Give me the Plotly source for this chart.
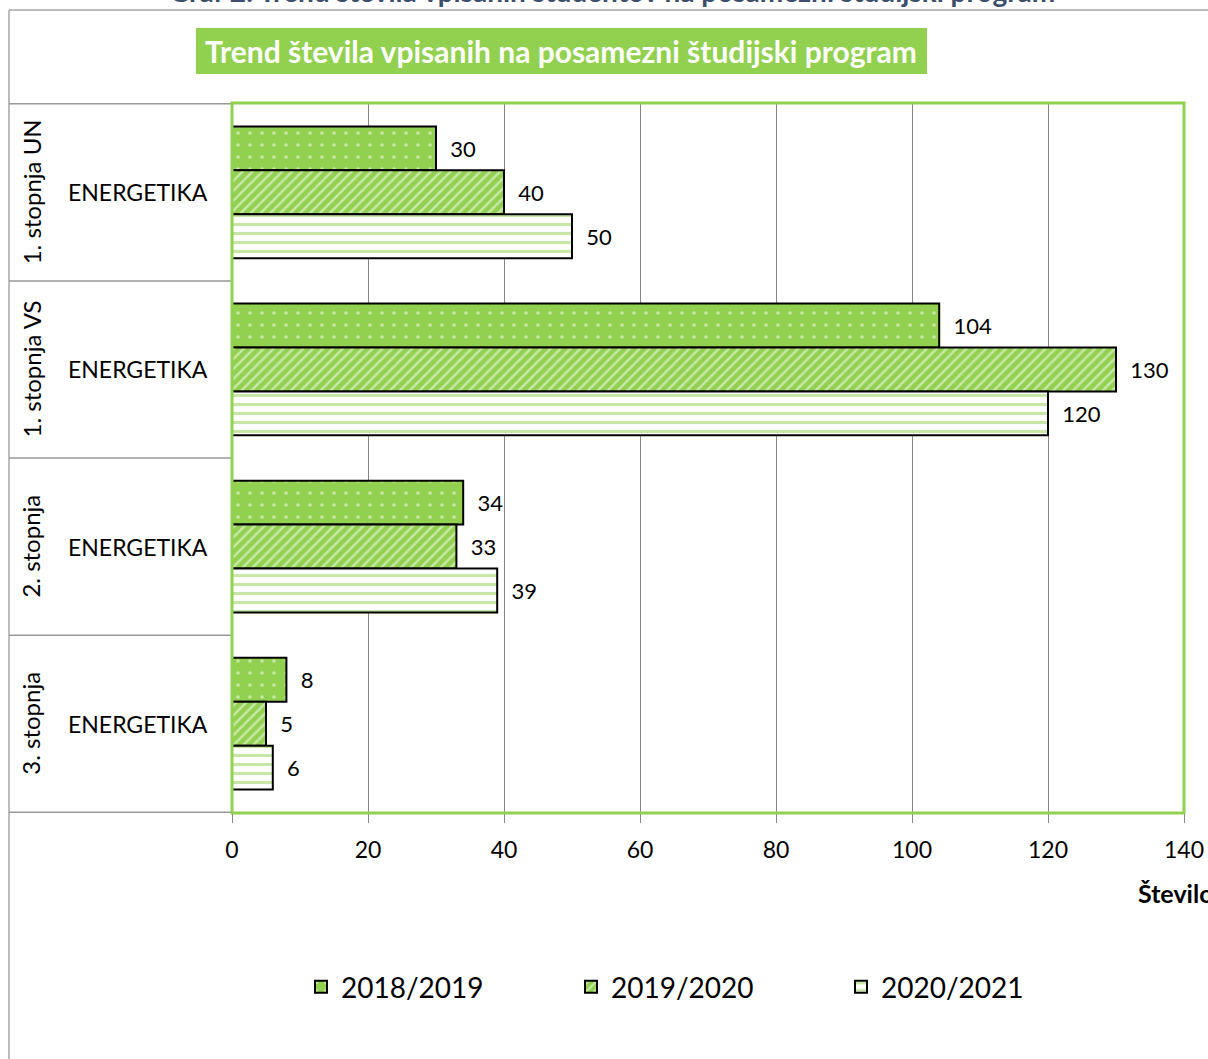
import plotly.graph_objects as go

# data
groups = ["1. stopnja UN", "1. stopnja VS", "2. stopnja", "3. stopnja"]
program = "ENERGETIKA"
years = ["2018/2019", "2019/2020", "2020/2021"]
v_2018 = [30, 104, 34, 8]
v_2019 = [40, 130, 33, 5]
v_2020 = [50, 120, 39, 6]
x_ticks = [0, 20, 40, 60, 80, 100, 120, 140]

GREEN = "#92d050"
FONT = "Lato"

W, H = 1208, 1059
L, R, T, B = 232, 24, 103, 246
PW, PH = W - L - R, H - T - B


def px(x):
    return (x - L) / PW


def py(y):
    return (H - B - y) / PH


patterns = [
    dict(shape=".", fgcolor="white", bgcolor=GREEN, size=12, solidity=0.07),
    dict(shape="/", fgcolor="white", bgcolor=GREEN, size=7, solidity=0.35),
    dict(shape="-", fgcolor=GREEN, bgcolor="white", size=9, solidity=0.35),
]

fig = go.Figure()
for name, vals, pat in zip(years, [v_2018, v_2019, v_2020], patterns):
    fig.add_trace(
        go.Bar(
            y=groups,
            x=vals,
            orientation="h",
            name=name,
            marker=dict(color=GREEN, pattern=pat, line=dict(color="black", width=2)),
            text=vals,
            texttemplate="\u00a0\u00a0%{x}",
            textposition="outside",
            textfont=dict(family=FONT, size=22, color="black"),
            cliponaxis=False,
        )
    )

fig.update_layout(
    width=W,
    height=H,
    autosize=False,
    margin=dict(l=L, r=R, t=T, b=B),
    paper_bgcolor="white",
    plot_bgcolor="white",
    barmode="group",
    bargap=0.256,
    bargroupgap=0,
    font=dict(family=FONT, color="black"),
    legend=dict(
        orientation="h",
        x=px(301),
        y=py(987),
        yanchor="middle",
        xanchor="left",
        font=dict(family=FONT, size=28),
        entrywidth=225,
        entrywidthmode="pixels",
        traceorder="normal",
    ),
)

fig.update_xaxes(
    range=[0, 140],
    tickvals=x_ticks,
    showgrid=True,
    gridcolor="#868686",
    gridwidth=1,
    ticks="outside",
    ticklen=9,
    tickcolor="#868686",
    ticklabelstandoff=7,
    ticklabeloverflow="allow",
    automargin=False,
    tickfont=dict(family=FONT, size=23, color="black"),
    zeroline=False,
    showline=False,
)
fig.update_yaxes(
    autorange="reversed",
    showticklabels=False,
    showgrid=False,
    zeroline=False,
    showline=False,
    automargin=False,
)

shapes = []
# outer chart border
shapes.append(dict(type="line", xref="paper", yref="paper", x0=px(9), x1=px(9),
                   y0=py(10), y1=py(1080), line=dict(color="#a6a6a6", width=1.5)))
shapes.append(dict(type="line", xref="paper", yref="paper", x0=px(9), x1=px(1230),
                   y0=py(10), y1=py(10), line=dict(color="#a6a6a6", width=1.5)))
# category dividers
for k in range(len(groups) + 1):
    shapes.append(dict(type="line", xref="paper", yref="y", x0=px(9), x1=0,
                       y0=k - 0.5, y1=k - 0.5, line=dict(color="#999999", width=1.5)))
# plot area border
shapes.append(dict(type="rect", xref="paper", yref="paper", x0=0, x1=1, y0=0, y1=1,
                   line=dict(color=GREEN, width=3), layer="above"))
# title box
shapes.append(dict(type="rect", xref="paper", yref="paper", x0=px(196), x1=px(927),
                   y0=py(74), y1=py(28), fillcolor=GREEN, line=dict(width=0)))
fig.update_layout(shapes=shapes)

annotations = [
    dict(text="Trend števila vpisanih na posamezni študijski program", xref="paper", yref="paper",
         x=px(561), y=py(51), showarrow=False, xanchor="center", yanchor="middle",
         font=dict(family=FONT, size=30, color="white", weight="bold")),
    dict(text="Graf 2: Trend števila vpisanih študentov na posamezni študijski program",
         xref="paper", yref="paper", x=px(612), y=py(-9), showarrow=False,
         xanchor="center", yanchor="middle",
         font=dict(family=FONT, size=28, color="#3b4e6b", weight="bold")),
    dict(text="Število", xref="paper", yref="paper", x=px(1136), y=py(893), showarrow=False,
         xanchor="left", yanchor="middle",
         font=dict(family=FONT, size=25, color="black", weight="bold")),
]
for g in groups:
    annotations.append(dict(text=program, xref="paper", yref="y", x=px(138), y=g,
                            showarrow=False, xanchor="center", yanchor="middle",
                            font=dict(family=FONT, size=23)))
    annotations.append(dict(text=g, xref="paper", yref="y", x=px(31), y=g, textangle=-90,
                            showarrow=False, xanchor="center", yanchor="middle",
                            font=dict(family=FONT, size=24)))
fig.update_layout(annotations=annotations)

# page without body margin so the figure sits at the window's top-left corner
fig.write_html("out.html", config={"displayModeBar": False},
               post_script="document.body.style.margin='0';")
